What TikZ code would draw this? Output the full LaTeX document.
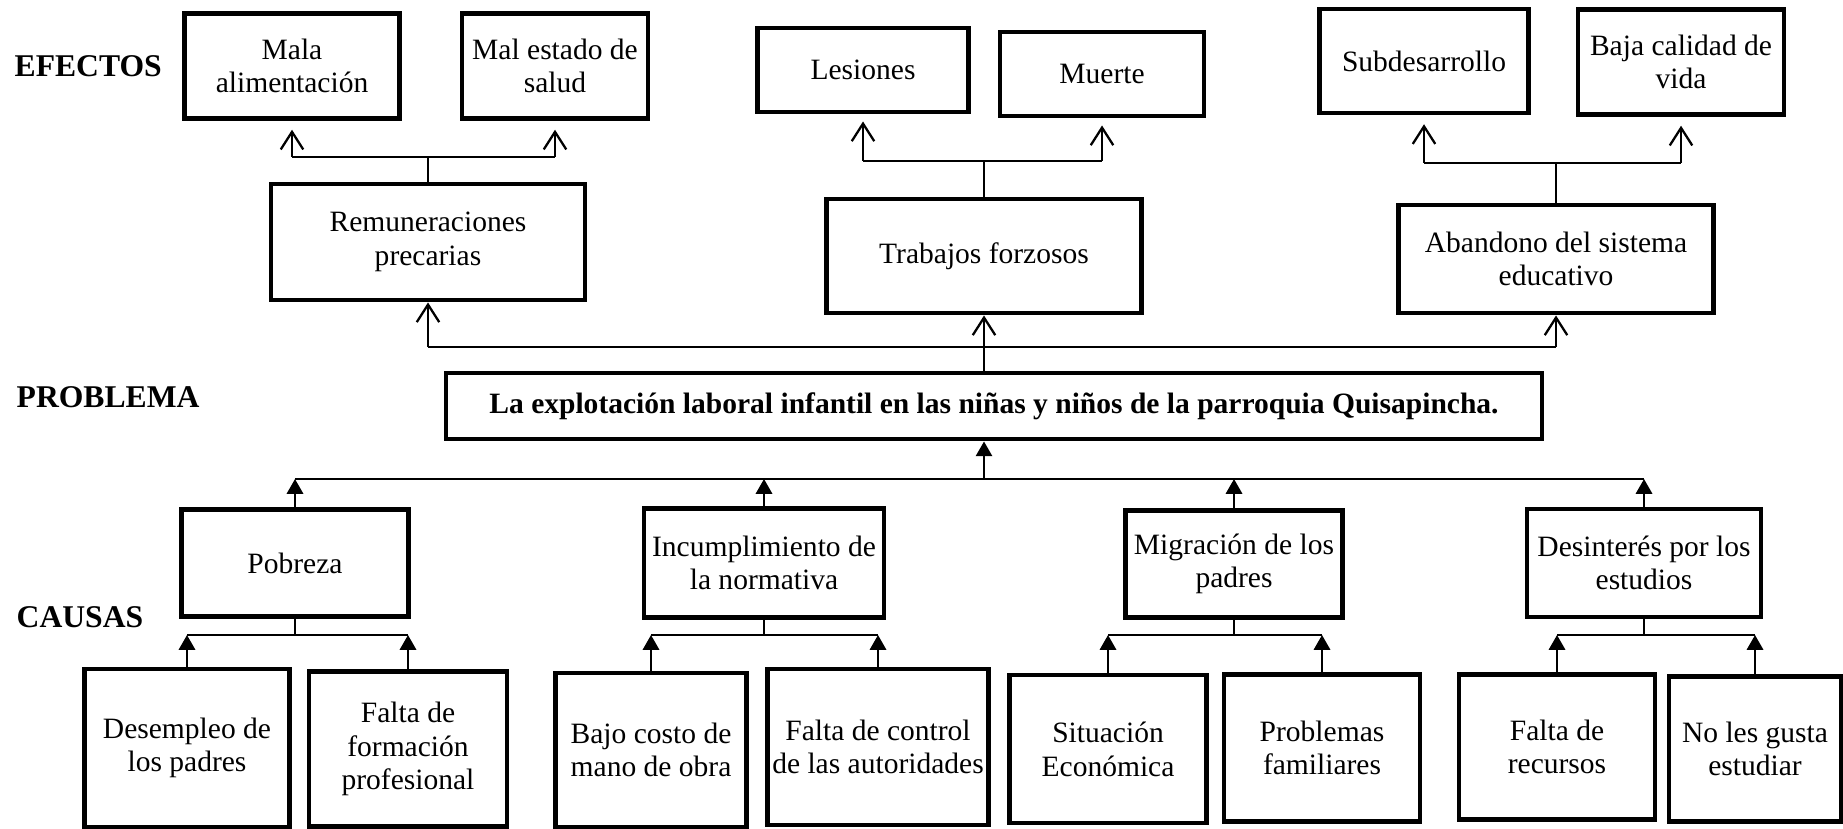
\documentclass[tikz,border=0pt]{standalone}
\usepackage{fontspec}
\setmainfont{Liberation Serif}
\usetikzlibrary{arrows.meta}

\tikzset{
  caja/.style={draw, line width=1.4pt, align=center, inner sep=1pt,
    font=\fontsize{8.4}{9.6}\selectfont},
  titulo/.style={anchor=west, inner sep=0pt, font=\fontsize{9}{10}\selectfont\bfseries},
  barra/.style={line width=0.5pt},
  efe/.style={-{Straight Barb[length=5pt,width=6.4pt]}, line width=0.65pt},
  cau/.style={-{Triangle[length=4.2pt,width=4.6pt]}, line width=0.7pt},
}

\begin{document}
\begin{tikzpicture}
    \useasboundingbox (0,0) rectangle (18.43,8.28);

    % Títulos
    \node[titulo] (tEfe) at (0.14,7.62) {EFECTOS};
    \node[titulo] (tPro) at (0.16,4.31) {PROBLEMA};
    \node[titulo] (tCau) at (0.16,2.11) {CAUSAS};

    % Efectos (segundo nivel)
    \node[caja, minimum width=2.15cm, minimum height=1.05cm] (mala) at (2.92,7.62) {Mala\\alimentación};
    \node[caja, minimum width=1.86cm, minimum height=1.05cm] (salud) at (5.55,7.62) {Mal estado de\\salud};
    \node[caja, minimum width=2.11cm, minimum height=0.84cm] (lesion) at (8.63,7.58) {Lesiones};
    \node[caja, minimum width=2.04cm, minimum height=0.84cm] (muerte) at (11.02,7.54) {Muerte};
    \node[caja, minimum width=2.09cm, minimum height=1.04cm] (subdes) at (14.24,7.67) {Subdesarrollo};
    \node[caja, minimum width=2.06cm, minimum height=1.05cm] (baja) at (16.81,7.66) {Baja calidad de\\vida};

    % Efectos (primer nivel)
    \node[caja, minimum width=3.14cm, minimum height=1.16cm] (remun) at (4.28,5.86) {Remuneraciones\\precarias};
    \node[caja, minimum width=3.15cm, minimum height=1.14cm] (trab) at (9.84,5.72) {Trabajos forzosos};
    \node[caja, minimum width=3.15cm, minimum height=1.08cm] (aband) at (15.56,5.69) {Abandono del sistema\\educativo};

    % Problema
    \node[caja, font=\fontsize{8.4}{9.6}\selectfont\bfseries, minimum width=10.96cm, minimum height=0.66cm] (prob) at (9.94,4.22)
      {La explotación laboral infantil en las niñas y niños de la parroquia Quisapincha.};

    % Causas (primer nivel)
    \node[caja, minimum width=2.27cm, minimum height=1.07cm] (pobreza) at (2.95,2.65) {Pobreza};
    \node[caja, minimum width=2.40cm, minimum height=1.09cm] (incump) at (7.64,2.65) {Incumplimiento de\\la normativa};
    \node[caja, minimum width=2.17cm, minimum height=1.07cm] (migra) at (12.34,2.64) {Migración de los\\padres};
    \node[caja, minimum width=2.34cm, minimum height=1.08cm] (desint) at (16.44,2.65) {Desinterés por los\\estudios};

    % Causas (segundo nivel)
    \node[caja, minimum width=2.05cm, minimum height=1.58cm] (desemp) at (1.87,0.80) {Desempleo de\\los padres};
    \node[caja, minimum width=1.98cm, minimum height=1.55cm] (formac) at (4.08,0.79) {Falta de\\formación\\profesional};
    \node[caja, minimum width=1.91cm, minimum height=1.54cm] (costo) at (6.51,0.78) {Bajo costo de\\mano de obra};
    \node[caja, minimum width=2.21cm, minimum height=1.56cm] (control) at (8.78,0.81) {Falta de control\\de las autoridades};
    \node[caja, minimum width=1.97cm, minimum height=1.48cm] (situac) at (11.08,0.79) {Situación\\Económica};
    \node[caja, minimum width=1.96cm, minimum height=1.47cm] (famil) at (13.22,0.80) {Problemas\\familiares};
    \node[caja, minimum width=1.96cm, minimum height=1.45cm] (recur) at (15.57,0.81) {Falta de\\recursos};
    \node[caja, minimum width=1.72cm, minimum height=1.45cm] (gusta) at (17.55,0.79) {No les gusta\\estudiar};

    % Alturas de las barras
    \coordinate (barA) at (0,6.71);
    \coordinate (barB) at (0,6.67);
    \coordinate (barC) at (0,6.65);
    \coordinate (barE) at (0,4.81);
    \coordinate (barP) at (0,3.49);
    \coordinate (barH) at (0,1.93);

    % Flechas de efectos (segundo nivel)
    \draw[barra] (remun.north) -- (remun.north |- barA);
    \draw[barra] (mala.south |- barA) -- (salud.south |- barA);
    \draw[efe, shorten >=2.5pt] (mala.south |- barA) -- (mala.south);
    \draw[efe, shorten >=2.5pt] (salud.south |- barA) -- (salud.south);

    \draw[barra] (trab.north) -- (trab.north |- barB);
    \draw[barra] (lesion.south |- barB) -- (muerte.south |- barB);
    \draw[efe, shorten >=2pt] (lesion.south |- barB) -- (lesion.south);
    \draw[efe, shorten >=2pt] (muerte.south |- barB) -- (muerte.south);

    \draw[barra] (aband.north) -- (aband.north |- barC);
    \draw[barra] (subdes.south |- barC) -- (baja.south |- barC);
    \draw[efe, shorten >=2.5pt] (subdes.south |- barC) -- (subdes.south);
    \draw[efe, shorten >=2.5pt] (baja.south |- barC) -- (baja.south);

    % Flechas de efectos (primer nivel)
    \draw[barra] (remun.south |- barE) -- (aband.south |- barE);
    \draw[efe] (remun.south |- barE) -- (remun.south);
    \draw[efe] (prob.north -| trab.south) -- (trab.south);
    \draw[efe] (aband.south |- barE) -- (aband.south);

    % Flechas de causas (primer nivel)
    \draw[barra] (pobreza.north |- barP) -- (desint.north |- barP);
    \draw[cau] (trab.south |- barP) -- (prob.south -| trab.south);
    \draw[cau] (pobreza.north) -- (pobreza.north |- barP);
    \draw[cau] (incump.north) -- (incump.north |- barP);
    \draw[cau] (migra.north) -- (migra.north |- barP);
    \draw[cau] (desint.north) -- (desint.north |- barP);

    % Flechas de causas (segundo nivel)
    \draw[barra] (pobreza.south) -- (pobreza.south |- barH);
    \draw[barra] (desemp.north |- barH) -- (formac.north |- barH);
    \draw[cau] (desemp.north) -- (desemp.north |- barH);
    \draw[cau] (formac.north) -- (formac.north |- barH);

    \draw[barra] (incump.south) -- (incump.south |- barH);
    \draw[barra] (costo.north |- barH) -- (control.north |- barH);
    \draw[cau] (costo.north) -- (costo.north |- barH);
    \draw[cau] (control.north) -- (control.north |- barH);

    \draw[barra] (migra.south) -- (migra.south |- barH);
    \draw[barra] (situac.north |- barH) -- (famil.north |- barH);
    \draw[cau] (situac.north) -- (situac.north |- barH);
    \draw[cau] (famil.north) -- (famil.north |- barH);

    \draw[barra] (desint.south) -- (desint.south |- barH);
    \draw[barra] (recur.north |- barH) -- (gusta.north |- barH);
    \draw[cau] (recur.north) -- (recur.north |- barH);
    \draw[cau] (gusta.north) -- (gusta.north |- barH);
\end{tikzpicture}
\end{document}
